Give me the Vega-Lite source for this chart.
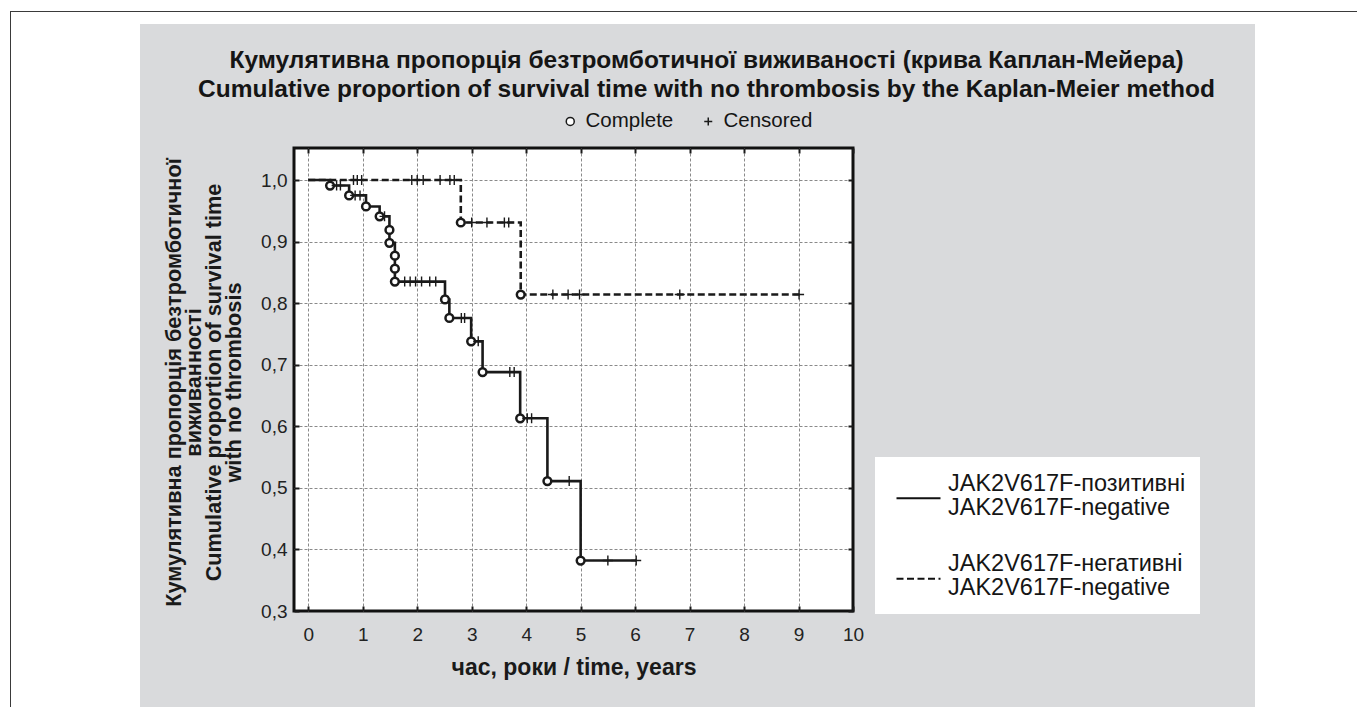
{
  "$schema": "https://vega.github.io/schema/vega-lite/v6.json",
  "background": "#d9dadc",
  "padding": 0,
  "spacing": 0,
  "config": {
    "view": {"stroke": null},
    "concat": {"spacing": 0},
    "font": "Liberation Sans",
    "style": {"guide-label": {"lineHeight": 24}}
  },
  "vconcat": [
    {"width": 1357, "height": 11, "data": {"values": []}, "mark": "point", "view": {"fill": "white", "stroke": null}},
    {"spacing": 0, "hconcat": [
      {"width": 10, "height": 1, "data": {"values": []}, "mark": "point", "view": {"fill": "white", "stroke": null}},
      {"width": 1347, "height": 1, "data": {"values": []}, "mark": "point", "view": {"fill": "#3a3a3a", "stroke": null}}
    ]},
    {"spacing": 0, "hconcat": [
      {"width": 10, "height": 695, "data": {"values": []}, "mark": "point", "view": {"fill": "white", "stroke": null}},
      {"width": 1, "height": 695, "data": {"values": []}, "mark": "point", "view": {"fill": "#3a3a3a", "stroke": null}},
      {"spacing": 0, "vconcat": [
        {"width": 1346, "height": 12, "data": {"values": []}, "mark": "point", "view": {"fill": "white", "stroke": null}},
        {"spacing": 0, "hconcat": [
          {"width": 129, "height": 683, "data": {"values": []}, "mark": "point", "view": {"fill": "white", "stroke": null}},
          {
            "columns": 2,
            "spacing": 0,
            "bounds": "flush",
            "align": "each",
            "concat": [
              {"width": 154, "height": 124, "data": {"values": []}, "mark": "point", "view": {"stroke": null}},
              {"width": 961, "height": 124, "data": {"values": []}, "mark": "point", "view": {"stroke": null}},
              {"width": 154, "height": 559, "data": {"values": []}, "mark": "point", "view": {"stroke": null}},
              {
                "width": 559,
                "height": 463,
                "view": {"fill": "white", "stroke": "#111111", "strokeWidth": 3},
                "title": {
                  "text": ["Кумулятивна пропорція безтромботичної виживаності (крива Каплан-Мейера)", "Cumulative proportion of survival time with no thrombosis by the Kaplan-Meier method"],
                  "font": "Liberation Sans",
                  "fontSize": 24.5,
                  "fontWeight": "bold",
                  "lineHeight": 29,
                  "color": "#151515",
                  "anchor": "middle",
                  "frame": "group",
                  "dx": 133,
                  "offset": 45
                },
                "data": {"values": [
                  {"g": "pos", "t": 0, "s": 1, "k": "start"},
                  {"g": "pos", "t": 0.40, "s": 0.991, "k": "event"},
                  {"g": "pos", "t": 0.52, "s": 0.991, "k": "cens"},
                  {"g": "pos", "t": 0.59, "s": 0.991, "k": "cens"},
                  {"g": "pos", "t": 0.75, "s": 0.975, "k": "event"},
                  {"g": "pos", "t": 0.86, "s": 0.975, "k": "cens"},
                  {"g": "pos", "t": 0.95, "s": 0.975, "k": "cens"},
                  {"g": "pos", "t": 1.06, "s": 0.957, "k": "event"},
                  {"g": "pos", "t": 1.31, "s": 0.941, "k": "event"},
                  {"g": "pos", "t": 1.40, "s": 0.941, "k": "cens"},
                  {"g": "pos", "t": 1.49, "s": 0.919, "k": "event"},
                  {"g": "pos", "t": 1.49, "s": 0.898, "k": "event"},
                  {"g": "pos", "t": 1.59, "s": 0.877, "k": "event"},
                  {"g": "pos", "t": 1.59, "s": 0.856, "k": "event"},
                  {"g": "pos", "t": 1.59, "s": 0.835, "k": "event"},
                  {"g": "pos", "t": 1.77, "s": 0.835, "k": "cens"},
                  {"g": "pos", "t": 1.87, "s": 0.835, "k": "cens"},
                  {"g": "pos", "t": 1.97, "s": 0.835, "k": "cens"},
                  {"g": "pos", "t": 2.08, "s": 0.835, "k": "cens"},
                  {"g": "pos", "t": 2.23, "s": 0.835, "k": "cens"},
                  {"g": "pos", "t": 2.34, "s": 0.835, "k": "cens"},
                  {"g": "pos", "t": 2.51, "s": 0.806, "k": "event"},
                  {"g": "pos", "t": 2.59, "s": 0.776, "k": "event"},
                  {"g": "pos", "t": 2.81, "s": 0.776, "k": "cens"},
                  {"g": "pos", "t": 2.87, "s": 0.776, "k": "cens"},
                  {"g": "pos", "t": 2.99, "s": 0.738, "k": "event"},
                  {"g": "pos", "t": 3.12, "s": 0.738, "k": "cens"},
                  {"g": "pos", "t": 3.20, "s": 0.688, "k": "event"},
                  {"g": "pos", "t": 3.70, "s": 0.688, "k": "cens"},
                  {"g": "pos", "t": 3.78, "s": 0.688, "k": "cens"},
                  {"g": "pos", "t": 3.89, "s": 0.613, "k": "event"},
                  {"g": "pos", "t": 4.02, "s": 0.613, "k": "cens"},
                  {"g": "pos", "t": 4.10, "s": 0.613, "k": "cens"},
                  {"g": "pos", "t": 4.39, "s": 0.511, "k": "event"},
                  {"g": "pos", "t": 4.79, "s": 0.511, "k": "cens"},
                  {"g": "pos", "t": 5.00, "s": 0.382, "k": "event"},
                  {"g": "pos", "t": 5.50, "s": 0.382, "k": "cens"},
                  {"g": "pos", "t": 6.02, "s": 0.382, "k": "cens"},
                  {"g": "neg", "t": 0, "s": 1, "k": "start"},
                  {"g": "neg", "t": 0.83, "s": 1, "k": "cens"},
                  {"g": "neg", "t": 0.90, "s": 1, "k": "cens"},
                  {"g": "neg", "t": 0.98, "s": 1, "k": "cens"},
                  {"g": "neg", "t": 1.90, "s": 1, "k": "cens"},
                  {"g": "neg", "t": 2.00, "s": 1, "k": "cens"},
                  {"g": "neg", "t": 2.11, "s": 1, "k": "cens"},
                  {"g": "neg", "t": 2.42, "s": 1, "k": "cens"},
                  {"g": "neg", "t": 2.60, "s": 1, "k": "cens"},
                  {"g": "neg", "t": 2.68, "s": 1, "k": "cens"},
                  {"g": "neg", "t": 2.80, "s": 0.931, "k": "event"},
                  {"g": "neg", "t": 3.00, "s": 0.931, "k": "cens"},
                  {"g": "neg", "t": 3.28, "s": 0.931, "k": "cens"},
                  {"g": "neg", "t": 3.60, "s": 0.931, "k": "cens"},
                  {"g": "neg", "t": 3.68, "s": 0.931, "k": "cens"},
                  {"g": "neg", "t": 3.90, "s": 0.814, "k": "event"},
                  {"g": "neg", "t": 4.49, "s": 0.814, "k": "cens"},
                  {"g": "neg", "t": 4.77, "s": 0.814, "k": "cens"},
                  {"g": "neg", "t": 4.98, "s": 0.814, "k": "cens"},
                  {"g": "neg", "t": 6.82, "s": 0.814, "k": "cens"},
                  {"g": "neg", "t": 9.01, "s": 0.814, "k": "cens"}
                ]},
                "layer": [
                  {
                    "mark": {"type": "line", "interpolate": "step-after", "strokeWidth": 2.6, "color": "#1a1a1a"},
                    "encoding": {
                      "x": {"field": "t", "type": "quantitative", "scale": {"domain": [-0.262, 10], "nice": false, "zero": false},
                        "axis": {
                          "orient": "bottom", "values": [0, 1, 2, 3, 4, 5, 6, 7, 8, 9, 10],
                          "grid": true, "gridColor": "#8a8a8a", "gridDash": [3, 2], "gridWidth": 1,
                          "gridOpacity": {"condition": {"test": "datum.value >= 9.99", "value": 0}, "value": 1},
                          "domain": false, "ticks": true, "tickSize": -5, "tickWidth": 2, "tickColor": "#1a1a1a",
                          "labelFont": "Liberation Sans", "labelFontSize": 19, "labelColor": "#222222", "labelPadding": 19,
                          "labelFlush": false, "labelOverlap": false, "labelBound": false,
                          "title": "час, роки / time, years", "titleFont": "Liberation Sans", "titleFontSize": 23,
                          "titleFontWeight": "bold", "titleColor": "#1a1a1a", "titleY": 56, "titleBaseline": "middle"
                        }},
                      "y": {"field": "s", "type": "quantitative", "scale": {"domain": [0.3, 1.052], "nice": false, "zero": false},
                        "axis": {
                          "orient": "left", "values": [0.3, 0.4, 0.5, 0.6, 0.7, 0.8, 0.9, 1.0],
                          "labelExpr": "replace(format(datum.value, '.1f'), '.', ',')",
                          "grid": true, "gridColor": "#8a8a8a", "gridDash": [3, 2], "gridWidth": 1,
                          "gridOpacity": {"condition": {"test": "datum.value <= 0.301", "value": 0}, "value": 1},
                          "domain": false, "ticks": true, "tickSize": -5, "tickWidth": 2, "tickColor": "#1a1a1a",
                          "labelFont": "Liberation Sans", "labelFontSize": 19, "labelColor": "#222222", "labelPadding": 12,
                          "labelFlush": false, "labelOverlap": false, "labelBound": false,
                          "title": ["Кумулятивна пропорція безтромботичної", "виживанності", "Cumulative proportion of survival time", "with no thrombosis"],
                          "titleFont": "Liberation Sans", "titleFontSize": 21.7, "titleFontWeight": "bold", "titleColor": "#1a1a1a",
                          "titleLineHeight": 20, "titleX": -121, "titleY": 234, "titleAngle": -90,
                          "titleBaseline": "middle", "titleAlign": "center"
                        }},
                      "strokeDash": {"field": "g", "type": "nominal",
                        "scale": {"domain": ["pos", "neg"], "range": [[1, 0], [7, 3.5]]},
                        "legend": {
                          "orient": "none", "legendX": 875, "legendY": 457, "fillColor": "white", "padding": 14,
                          "title": null, "symbolType": "M-2,1.34L2,1.34", "symbolSize": 484, "symbolStrokeWidth": 2.2,
                          "symbolStrokeColor": "#111111", "symbolFillColor": "transparent", "symbolOffset": 17, "labelOffset": 17,
                          "labelFont": "Liberation Sans", "labelFontSize": 23.5, "labelColor": "#151515", "labelBaseline": "middle",
                          "rowPadding": 32.5, "labelLimit": 400,
                          "labelExpr": "datum.value == 'pos' ? ['JAK2V617F-позитивні', 'JAK2V617F-negative'] : ['JAK2V617F-негативні', 'JAK2V617F-negative']"
                        }},
                      "order": [{"field": "s", "sort": "descending"}, {"field": "t", "sort": "ascending"}]
                    }
                  },
                  {
                    "transform": [{"filter": "datum.k == 'event'"}],
                    "mark": {"type": "point", "filled": true, "fill": "white", "stroke": "#1a1a1a", "strokeWidth": 2.5, "size": 60, "opacity": 1},
                    "encoding": {
                      "x": {"field": "t", "type": "quantitative",
                        "axis": {"orient": "top", "values": [0, 1, 2, 3, 4, 5, 6, 7, 8, 9, 10], "grid": false, "domain": false, "labels": false,
                          "ticks": true, "tickSize": -5, "tickWidth": 2, "tickColor": "#1a1a1a", "title": null}},
                      "y": {"field": "s", "type": "quantitative",
                        "axis": {"orient": "right", "values": [0.3, 0.4, 0.5, 0.6, 0.7, 0.8, 0.9, 1.0], "grid": false, "domain": false, "labels": false,
                          "ticks": true, "tickSize": -5, "tickWidth": 2, "tickColor": "#1a1a1a", "title": null}},
                      "shape": {"field": "k", "type": "nominal",
                        "scale": {"domain": ["event", "cens"], "range": ["circle", "M-1,0L1,0M0,-1L0,1"]},
                        "legend": {
                          "orient": "none", "legendX": 560, "legendY": 111, "direction": "horizontal", "title": null, "padding": 0,
                          "symbolSize": 64, "labelFont": "Liberation Sans", "labelFontSize": 20.5, "labelColor": "#151515", "labelOffset": 5,
                          "columnPadding": 24, "labelExpr": "datum.value == 'event' ? 'Complete' : 'Censored'",
                          "encode": {"symbols": {"update": {
                            "fill": {"value": "transparent"}, "stroke": {"value": "#151515"}, "opacity": {"value": 1},
                            "strokeWidth": {"signal": "datum.value == 'event' ? 2.2 : 1.5"},
                            "size": {"signal": "datum.value == 'event' ? 45 : 120"}
                          }}}
                        }}
                    }
                  },
                  {
                    "transform": [{"filter": "datum.k == 'cens'"}],
                    "mark": {"type": "point", "filled": false, "stroke": "#1a1a1a", "strokeWidth": 1.4, "size": 100, "opacity": 1},
                    "encoding": {
                      "x": {"field": "t", "type": "quantitative", "axis": null},
                      "y": {"field": "s", "type": "quantitative", "axis": null},
                      "shape": {"field": "k", "type": "nominal",
                        "scale": {"domain": ["event", "cens"], "range": ["circle", "M-1,0L1,0M0,-1L0,1"]},
                        "legend": {
                          "orient": "none", "legendX": 560, "legendY": 111, "direction": "horizontal", "title": null, "padding": 0,
                          "symbolSize": 64, "labelFont": "Liberation Sans", "labelFontSize": 20.5, "labelColor": "#151515", "labelOffset": 5,
                          "columnPadding": 24, "labelExpr": "datum.value == 'event' ? 'Complete' : 'Censored'",
                          "encode": {"symbols": {"update": {
                            "fill": {"value": "transparent"}, "stroke": {"value": "#151515"}, "opacity": {"value": 1},
                            "strokeWidth": {"signal": "datum.value == 'event' ? 2.2 : 1.5"},
                            "size": {"signal": "datum.value == 'event' ? 45 : 120"}
                          }}}
                        }}
                    }
                  }
                ],
                "resolve": {"axis": {"x": "independent", "y": "independent"}}
              }
            ]
          },
          {"width": 102, "height": 683, "data": {"values": []}, "mark": "point", "view": {"fill": "white", "stroke": null}}
        ]}
      ]}
    ]}
  ]
}
